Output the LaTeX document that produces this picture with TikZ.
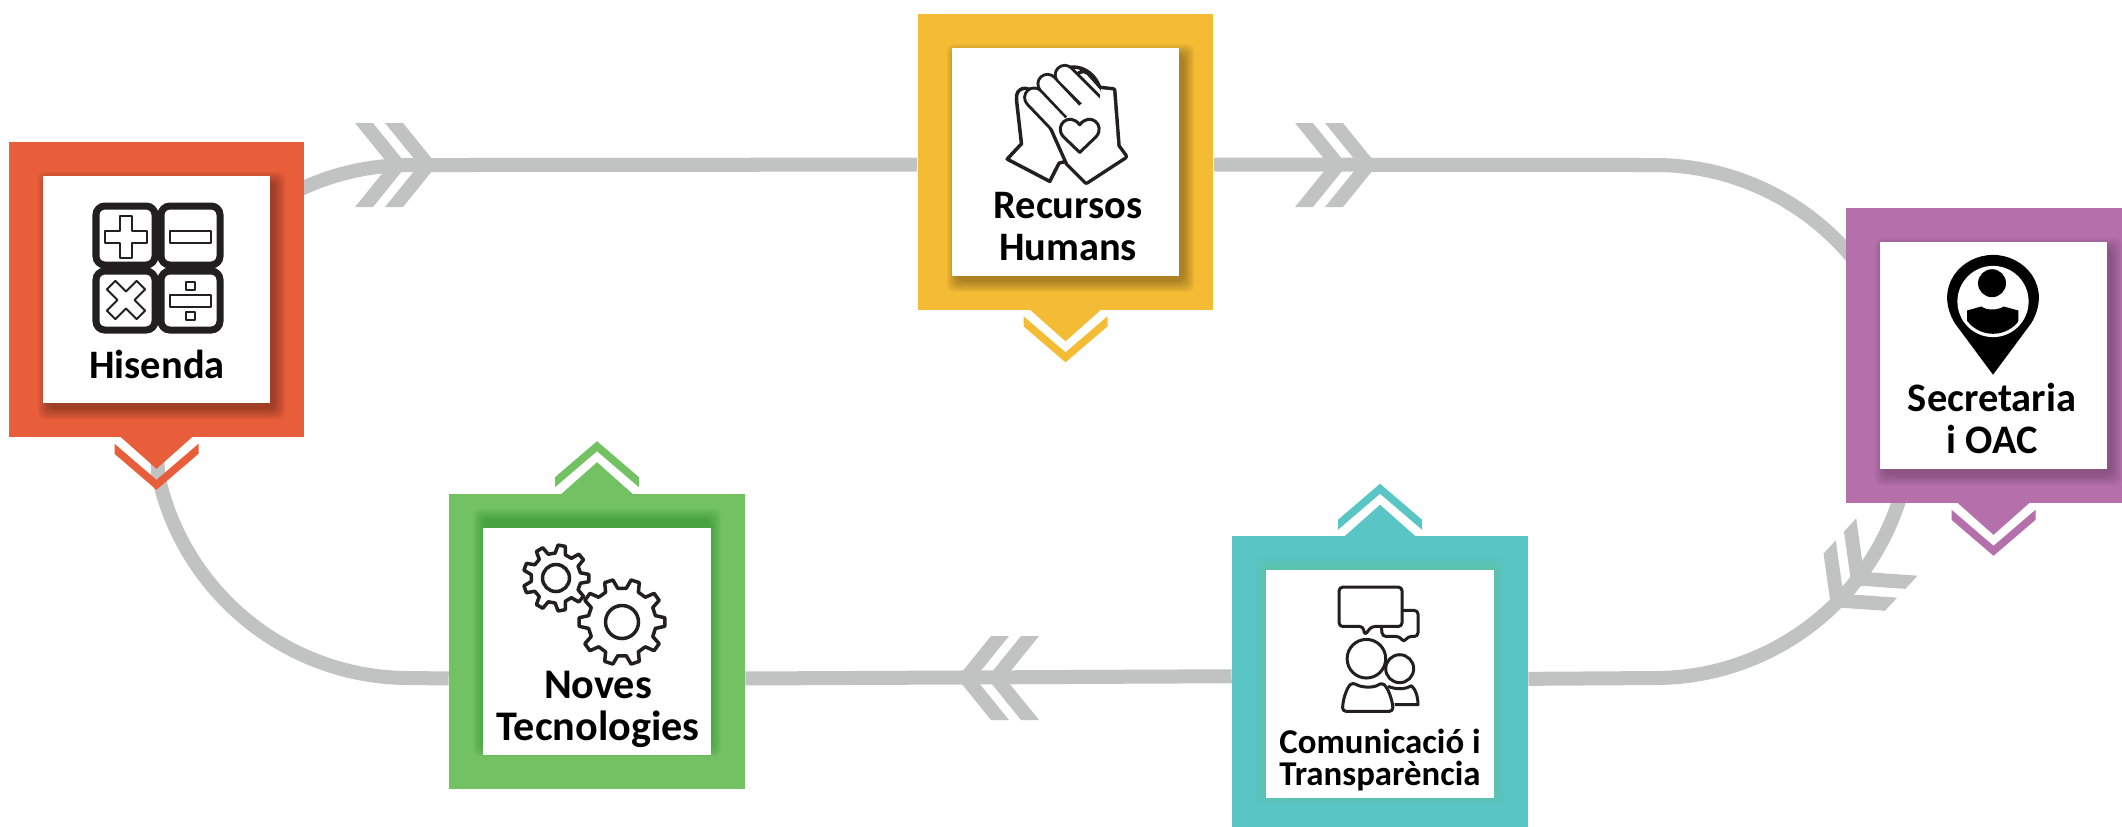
\documentclass[tikz,border=0pt]{standalone}
\usepackage{fontspec}
\setmainfont{Carlito}
\usetikzlibrary{calc,backgrounds}
\definecolor{flowgray}{HTML}{C1C3C2}
\definecolor{iconink}{HTML}{231F20}
\definecolor{myorange}{HTML}{E85D3A}
\definecolor{myyellow}{HTML}{F4BB34}
\definecolor{mypurple}{HTML}{B56FAB}
\definecolor{myteal}{HTML}{59C5C5}
\definecolor{mygreen}{HTML}{72C163}
\tikzset{
	outerbox/.style={minimum size=2.95cm,inner sep=0pt,fill=#1},
	cardbox/.style={minimum size=2.27cm,inner sep=0pt,fill=white},
	boxlabel/.style={anchor=base,align=center,inner sep=0pt,font=\bfseries\fontsize{11.5}{11.9}\selectfont},
	flowline/.style={draw=flowgray,line width=0.14cm},
	iconline/.style={draw=iconink,line width=0.03cm,line join=round},
	iconframe/.style 2 args={shift={(#1,#2)},x=0.00333cm,y=-0.00333cm},
}
% double arrow head sitting on a connector, tip at #1,#2
\newcommand{\DOUBLECHEV}[3]{
	\begin{scope}[shift={(#1,#2)},rotate=#3]
		\fill[flowgray] (0,0) -- (-34,42) -- (-52,42) -- (-18,0) -- (-52,-42) -- (-34,-42) -- cycle;
		\fill[flowgray] (-30,0) -- (-64,42) -- (-82,42) -- (-48,0) -- (-82,-42) -- (-64,-42) -- cycle;
	\end{scope}
}
% little tab with a chevron, #3 = 1 points down, -1 points up
\newcommand{\TABMARK}[3]{
	\begin{scope}[shift={(#1)},yscale=#3]
		\fill[#2] (-36,1) -- (0,-31) -- (36,1) -- cycle;
		\fill[#2] (-42,-6) -- (0,-42) -- (42,-6) -- (42,-16) -- (0,-52) -- (-42,-16) -- cycle;
	\end{scope}
}
\newcommand{\SOFTSHADOW}[5]{
	\foreach \s in {10,8,...,0}{
		\fill[#4,opacity=#5,rounded corners=2pt] ($(#1)+(#2-113.5-\s,#3-113.5-\s)$) rectangle ($(#1)+(#2+113.5+\s,#3+113.5+\s)$);
	}
}
\newcommand{\GEAR}[6]{
	\draw[iconline,line width=0.035cm,shift={(#1,#2)}] ({-0.3*360/#5}:#4) \foreach \i in {1,...,#5}{
		-- ({(\i-1.3)*360/#5}:#4) -- ({(\i-1.16)*360/#5}:#3) -- ({(\i-0.84)*360/#5}:#3) -- ({(\i-0.7)*360/#5}:#4)
	} -- cycle;
	\draw[iconline,line width=0.035cm,shift={(#1,#2)}] (0,0) circle[radius=#6];
}
\begin{document}
\begin{tikzpicture}[x=0.01cm,y=0.01cm]
	\useasboundingbox (0,-826) rectangle (2122,0);

	%% coloured boxes
	\node[outerbox=myorange] (hisenda) at (156.5,-289.5) {};
	\node[outerbox=myyellow] (recursos) at (1065.5,-162) {};
	\node[outerbox=mypurple] (secretaria) at (1993.5,-355.5) {};
	\node[outerbox=myteal] (comunicacio) at (1380,-684) {};
	\node[outerbox=mygreen] (noves) at (597,-641.5) {};

	%% connectors go under the boxes
	\begin{scope}[on background layer]
		\draw[flowline] (hisenda.center) -- (296.5,-191) arc[start angle=116,end angle=90,radius=256.5] -- (recursos.181);
		\draw[flowline] (recursos.359) -- (1655,-165) arc[start angle=90,end angle=38,radius=256.5] -- (secretaria.center);
		\draw[flowline] (secretaria.center) -- (1902.8,-487.9) arc[start angle=-15,end angle=-90,radius=256.5] -- (comunicacio.2.3);
		\draw[flowline] (comunicacio.177.7) -- (noves.-14);
		\draw[flowline] (noves.194) -- (409,-678) arc[start angle=270,end angle=192,radius=256.5] -- (hisenda.south);
	\end{scope}
	\DOUBLECHEV{437}{-165}{0}
	\DOUBLECHEV{1377}{-165}{0}
	\DOUBLECHEV{1831}{-607}{227}
	\DOUBLECHEV{957}{-678}{180}

	\TABMARK{hisenda.south}{myorange}{1}
	\TABMARK{recursos.south}{myyellow}{1}
	\TABMARK{secretaria.south}{mypurple}{1}
	\TABMARK{comunicacio.north}{myteal}{-1}
	\TABMARK{noves.north}{mygreen}{-1}

	%% white cards
	\SOFTSHADOW{hisenda}{5}{-6}{black}{0.055}
	\SOFTSHADOW{recursos}{5}{-6}{black}{0.055}
	\SOFTSHADOW{secretaria}{5}{-6}{black}{0.04}
	\SOFTSHADOW{comunicacio}{0}{3}{mygreen!60!myteal}{0.08}
	\SOFTSHADOW{noves}{0}{9}{green!45!black}{0.07}
	\node[cardbox] (hisendacard) at (hisenda) {};
	\node[cardbox] (recursoscard) at (recursos) {};
	\node[cardbox] (secretariacard) at (secretaria) {};
	\node[cardbox] (comunicaciocard) at (comunicacio) {};
	\node[cardbox] (novescard) at (noves) {};

	%% labels
	\node[boxlabel] (hisendatext) at (157,-378) {Hisenda};
	\node[boxlabel] (recursostext) at (1068,-260) {Recursos\\Humans};
	\node[boxlabel] (secretariatext) at (1992,-453) {Secretaria\\i OAC};
	\node[boxlabel,font=\bfseries\fontsize{9.9}{9}\selectfont] (comunicaciotext) at (1380,-785) {Comunicació i\\Transparència};
	\node[boxlabel,font=\bfseries\fontsize{12}{11.7}\selectfont] (novestext) at (598,-740) {Noves\\Tecnologies};

	%% calculator
	\begin{scope}[shift={(158,-268)}]
		\foreach \sx/\sy in {-1/1,1/1,-1/-1,1/-1}{
			\draw[draw=iconink,line width=0.07cm,rounded corners=2.5pt] (\sx*3,\sy*3) rectangle (\sx*62,\sy*62);
		}
		\draw[iconline,line width=0.02cm] (-38,52) -- (-26,52) -- (-26,37) -- (-11,37) -- (-11,25) -- (-26,25) -- (-26,10) -- (-38,10) -- (-38,25) -- (-53,25) -- (-53,37) -- (-38,37) -- cycle;
		\draw[iconline,line width=0.02cm] (12,25) rectangle (53,37);
		\draw[iconline,line width=0.02cm,shift={(-32,-32)},rotate=45] (-6,21) -- (6,21) -- (6,6) -- (21,6) -- (21,-6) -- (6,-6) -- (6,-21) -- (-6,-21) -- (-6,-6) -- (-21,-6) -- (-21,6) -- (-6,6) -- cycle;
		\draw[iconline,line width=0.02cm] (12,-27) rectangle (53,-39);
		\draw[iconline,line width=0.02cm] (28,-14) rectangle (37,-22);
		\draw[iconline,line width=0.02cm] (28,-44) rectangle (37,-52);
	\end{scope}

	%% hands
	\begin{scope}[iconframe={900}{0}]
		\draw[iconink,fill=white,line width=0.035cm,line join=round] (322,478) -- (365,432) -- (350,300) .. controls (345,262) and (385,255) .. (400,280) -- (500,205) .. controls (545,190) and (600,225) .. (606,290) -- (520,480) -- (478,490) -- (450,545) -- cycle;
		\draw[iconink,line width=0.07cm,line join=round] (458,385) -- (510,345) -- (545,312) -- (600,300) -- (604,268) -- (640,272) -- (653,440) -- (675,470) -- (560,545) -- (505,490) -- cycle;
		\draw[iconink,line width=0.17cm,line cap=round] (550,235) -- (590,280);
		\draw[white,line width=0.1cm,line cap=round] (550,235) -- (590,280);
		\foreach \px/\py/\qx/\qy in {403/293/505/400,443/252/545/360,495/225/590/320}{
			\draw[iconink,line width=0.22cm,line cap=round] (\px,\py) -- (\qx,\qy);
		}
		\fill[white] (458,385) -- (510,345) -- (545,312) -- (600,300) -- (604,268) -- (640,272) -- (653,440) -- (675,470) -- (560,545) -- (505,490) -- cycle;
		\foreach \px/\py/\qx/\qy in {403/293/505/400,443/252/545/360,495/225/590/320}{
			\draw[white,line width=0.16cm,line cap=round] (\px,\py) -- (\qx,\qy);
		}
		\draw[iconline] (540,458) -- (490,410) .. controls (462,375) and (510,335) .. (540,375) .. controls (570,335) and (618,375) .. (590,410) -- cycle;
	\end{scope}

	%% pin with person
	\begin{scope}[iconframe={1780}{-190}]
		\fill[black] (640,555) -- (525,400) .. controls (460,290) and (545,195) .. (640,195) .. controls (735,195) and (820,290) .. (755,400) -- cycle;
		\fill[white] (640,335) circle[radius=107];
		\fill[black] (637,280) circle[radius=42];
		\begin{scope}
			\clip (640,335) circle[radius=97];
			\fill[black] (562,362) -- (605,350) .. controls (620,362) and (655,362) .. (672,350) -- (716,362) -- (716,440) -- (562,440) -- cycle;
		\end{scope}
	\end{scope}

	%% speech bubbles and people
	\begin{scope}[iconframe={1200}{-470}]
		\draw[iconline,rounded corners=1pt] (610,422) -- (655,422) -- (655,500) -- (625,500) -- (612,518) -- (600,500) -- (548,500) -- (545,472);
		\draw[iconline,rounded corners=1pt] (418,352) -- (607,352) -- (607,470) -- (515,470) -- (495,497) -- (490,470) -- (418,470) -- cycle;
		\draw[iconline] (500,567) circle[radius=58];
		\draw[iconline] (600,597) circle[radius=42];
		\draw[iconline] (565,650) .. controls (590,660) and (615,660) .. (635,648) .. controls (650,660) and (655,685) .. (655,705) -- (585,705);
		\draw[iconline,rounded corners=1pt] (428,725) .. controls (430,680) and (445,650) .. (460,638) .. controls (485,655) and (525,655) .. (545,638) .. controls (565,655) and (578,690) .. (580,725) -- cycle;
	\end{scope}

	%% gears
	\GEAR{556}{-578}{33}{25}{9}{13.5}
	\GEAR{622}{-622}{43}{34}{10}{16.5}
\end{tikzpicture}
\end{document}
